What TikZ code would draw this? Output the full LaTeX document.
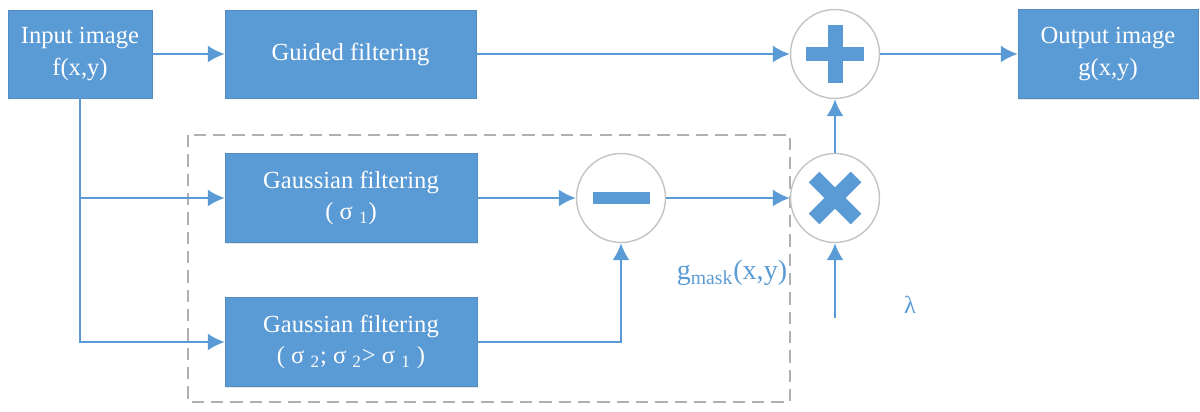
\documentclass[tikz,border=0pt]{standalone}
\usepackage{fontspec}
\setmainfont{Liberation Serif}
\usepackage{tikz}
\usetikzlibrary{arrows.meta, positioning, calc, shadows}
\definecolor{bblue}{HTML}{5B9BD5}
\definecolor{ringgray}{HTML}{C4C4C4}
\definecolor{dashgray}{HTML}{B0B0B0}
\tikzset{
  >=Latex,
  blk/.style={
    draw=bblue!90!black, line width=0.3pt, fill=bblue, text=white,
    align=center, inner sep=2pt, font=\fontsize{14}{18}\selectfont,
    drop shadow={opacity=0.18, shadow xshift=0.6pt, shadow yshift=-0.8pt}
  },
  opcirc/.style={
    circle, draw=ringgray, line width=0.8pt, fill=white,
    minimum size=1.78cm, inner sep=0pt
  },
  sign/.style={draw=bblue, line width=0.3cm},
  arr/.style={-{Latex[length=3.4mm, width=3.4mm]}, line width=1.2pt, draw=bblue},
  lab/.style={text=bblue, inner sep=0pt}
}
\begin{document}
\begin{tikzpicture}[x=0.02cm, y=-0.02cm]
  \useasboundingbox (0,0) rectangle (1200,412);

  % dashed frame round the two gaussians and the subtraction
  \draw[dashgray, line width=0.9pt, dash pattern=on 7pt off 4pt] (188,135) rectangle (790,402);

  % blocks
  \node[blk, minimum width=2.88cm, minimum height=1.76cm] (input) at (80,54) {Input image\\f(x,y)};
  \node[blk, minimum width=5.02cm, minimum height=1.76cm] (guided) at (350.5,54) {Guided filtering};
  \node[blk, minimum width=3.6cm, minimum height=1.78cm] (output) at (1108,54) {Output image\\g(x,y)};
  \node[blk, minimum width=5.04cm, minimum height=1.78cm] (gauss1) at (351,198) {Gaussian filtering\\( σ \textsubscript{1})};
  \node[blk, minimum width=5.04cm, minimum height=1.78cm] (gauss2) at (351,342) {Gaussian filtering\\( σ \textsubscript{2}; σ \textsubscript{2}> σ \textsubscript{1} )};

  % operators
  \node[opcirc] (plus) at (835,54) {};
  \node[opcirc] (minus) at (621,198) {};
  \node[opcirc] (times) at (835,198) {};
  \draw[sign] ([xshift=-0.58cm]plus.center) -- ([xshift=0.58cm]plus.center);
  \draw[sign] ([yshift=-0.58cm]plus.center) -- ([yshift=0.58cm]plus.center);
  \draw[sign, line width=0.26cm] ([xshift=-0.57cm]minus.center) -- ([xshift=0.57cm]minus.center);
  \draw[sign] ($(times.center)+(-21,-21)$) -- ($(times.center)+(21,21)$);
  \draw[sign] ($(times.center)+(-21,21)$) -- ($(times.center)+(21,-21)$);

  % labels
  \node[lab, font=\fontsize{16}{18}\selectfont] (gmask) at (732,273) {g\textsubscript{mask}(x,y)};
  \node[lab, font=\fontsize{14}{16}\selectfont] (lam) at (910,305) {λ};
  \coordinate (lamin) at (835,318);

  % connectors
  \draw[arr] (input.east) -- (guided.west);
  \draw[arr] (guided.east) -- (plus.west);
  \draw[arr] (plus.east) -- (output.west);
  \draw[arr] (input.south) |- (gauss2.west);
  \draw[arr] (input.south |- gauss1.west) -- (gauss1.west);
  \draw[arr] (gauss1.east) -- (minus.west);
  \draw[arr] (gauss2.east) -| (minus.south);
  \draw[arr] (minus.east) -- (times.west);
  \draw[arr] (times.north) -- (plus.south);
  \draw[arr] (lamin) -- (times.south);
\end{tikzpicture}
\end{document}
